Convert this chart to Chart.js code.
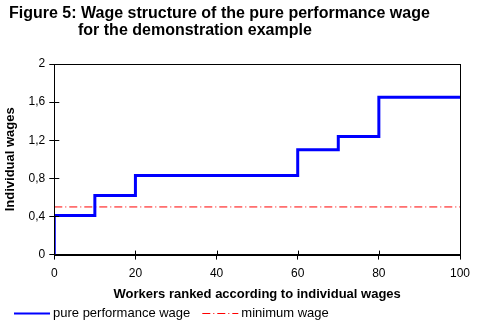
<!DOCTYPE html>
<html>
<head>
<meta charset="utf-8">
<script src="https://cdn.jsdelivr.net/npm/chart.js@4"></script>
<style>
  body { margin: 0; background: #fff; }
  #wrap { width: 481px; height: 330px; position: relative; }
</style>
</head>
<body>
<div id="wrap"><canvas id="chart" width="481" height="330"></canvas></div>
<script>
// Data
const titleLines = ['Figure 5: Wage structure of the pure performance wage', 'for the demonstration example'];
const workers = [0, 0, 10, 20, 60, 70, 80, 100];
const wages = [0, 0.41, 0.62, 0.83, 1.10, 1.24, 1.65, 1.65];
const minWorkers = [0, 100];
const minWage = [0.5, 0.5];
const xTicks = [0, 20, 40, 60, 80, 100];
const yTicks = [0, 0.4, 0.8, 1.2, 1.6, 2];

const FONT = "'Liberation Sans', Arial, sans-serif";
const fmt = v => String(Math.round(v * 10) / 10).replace('.', ',');

// Title, frame, crossing ticks and legend
const extras = {
  id: 'extras',
  afterDraw(chart) {
    const ctx = chart.ctx;
    const a = chart.chartArea;
    const xs = chart.scales.x, ys = chart.scales.y;
    ctx.save();

    // frame
    ctx.strokeStyle = '#000';
    ctx.lineWidth = 1;
    ctx.strokeRect(Math.round(a.left) + 0.5, Math.round(a.top) + 0.5,
      Math.round(a.right - a.left), Math.round(a.bottom - a.top));

    // inner half of tick marks
    ctx.beginPath();
    xTicks.forEach(v => {
      const px = Math.round(xs.getPixelForValue(v)) + 0.5;
      ctx.moveTo(px, a.bottom);
      ctx.lineTo(px, a.bottom - 4);
    });
    yTicks.forEach(v => {
      const py = Math.round(ys.getPixelForValue(v)) + 0.5;
      ctx.moveTo(a.left, py);
      ctx.lineTo(a.left + 5, py);
    });
    ctx.stroke();

    // title
    ctx.fillStyle = '#000';
    ctx.font = 'bold 16px ' + FONT;
    ctx.textBaseline = 'middle';
    ctx.textAlign = 'left';
    ctx.fillText(titleLines[0], 9, 14);
    const indent = ctx.measureText('Figure 5: ').width;
    ctx.fillText(titleLines[1], 6 + indent, 31);

    // legend
    ctx.font = '13px ' + FONT;
    let x = 14;
    const y = 313;
    chart.data.datasets.forEach(ds => {
      ctx.strokeStyle = ds.borderColor;
      ctx.lineWidth = ds.legendWidth;
      ctx.setLineDash(ds.borderDash || []);
      ctx.beginPath();
      ctx.moveTo(x, y + 0.5);
      ctx.lineTo(x + 36, y + 0.5);
      ctx.stroke();
      ctx.setLineDash([]);
      ctx.fillText(ds.label, x + 39, y);
      x += 39 + ctx.measureText(ds.label).width + 12;
    });
    ctx.restore();
  }
};

new Chart(document.getElementById('chart'), {
  type: 'scatter',
  data: {
    datasets: [
      {
        label: 'pure performance wage',
        data: workers.map((w, i) => ({ x: w, y: wages[i] })),
        showLine: true,
        stepped: 'before',
        borderColor: '#0000ff',
        borderWidth: 3,
        legendWidth: 2,
        pointRadius: 0,
        order: 1
      },
      {
        label: 'minimum wage',
        data: minWorkers.map((w, i) => ({ x: w, y: minWage[i] })),
        showLine: true,
        borderColor: '#ff0000',
        borderWidth: 1,
        legendWidth: 1,
        borderDash: [8, 3, 1, 3],
        pointRadius: 0,
        order: 2
      }
    ]
  },
  options: {
    responsive: false,
    animation: false,
    devicePixelRatio: 1,
    layout: { padding: { top: 64, right: 21, bottom: 29, left: 3 } },
    plugins: {
      legend: { display: false },
      tooltip: { enabled: false }
    },
    scales: {
      x: {
        type: 'linear',
        min: 0, max: 100,
        afterBuildTicks: s => { s.ticks = xTicks.map(v => ({ value: v })); },
        ticks: { color: '#000', font: { family: FONT, size: 12 }, padding: 7, maxRotation: 0 },
        grid: { drawOnChartArea: false, tickLength: 5, color: '#000' },
        border: { color: '#000' },
        title: {
          display: true,
          text: 'Workers ranked according to individual wages',
          color: '#000',
          font: { family: FONT, size: 13, weight: 'bold', lineHeight: 1 },
          padding: { top: 0, bottom: 0 }
        }
      },
      y: {
        type: 'linear',
        min: 0, max: 2,
        afterBuildTicks: s => { s.ticks = yTicks.map(v => ({ value: v })); },
        ticks: { color: '#000', font: { family: FONT, size: 12 }, padding: 4, callback: v => fmt(v) },
        grid: { drawOnChartArea: false, tickLength: 5, color: '#000' },
        border: { color: '#000' },
        title: {
          display: true,
          text: 'Individual wages',
          color: '#000',
          font: { family: FONT, size: 13, weight: 'bold' },
          padding: { top: 0, bottom: 6 }
        }
      }
    }
  },
  plugins: [extras]
});
</script>
</body>
</html>
